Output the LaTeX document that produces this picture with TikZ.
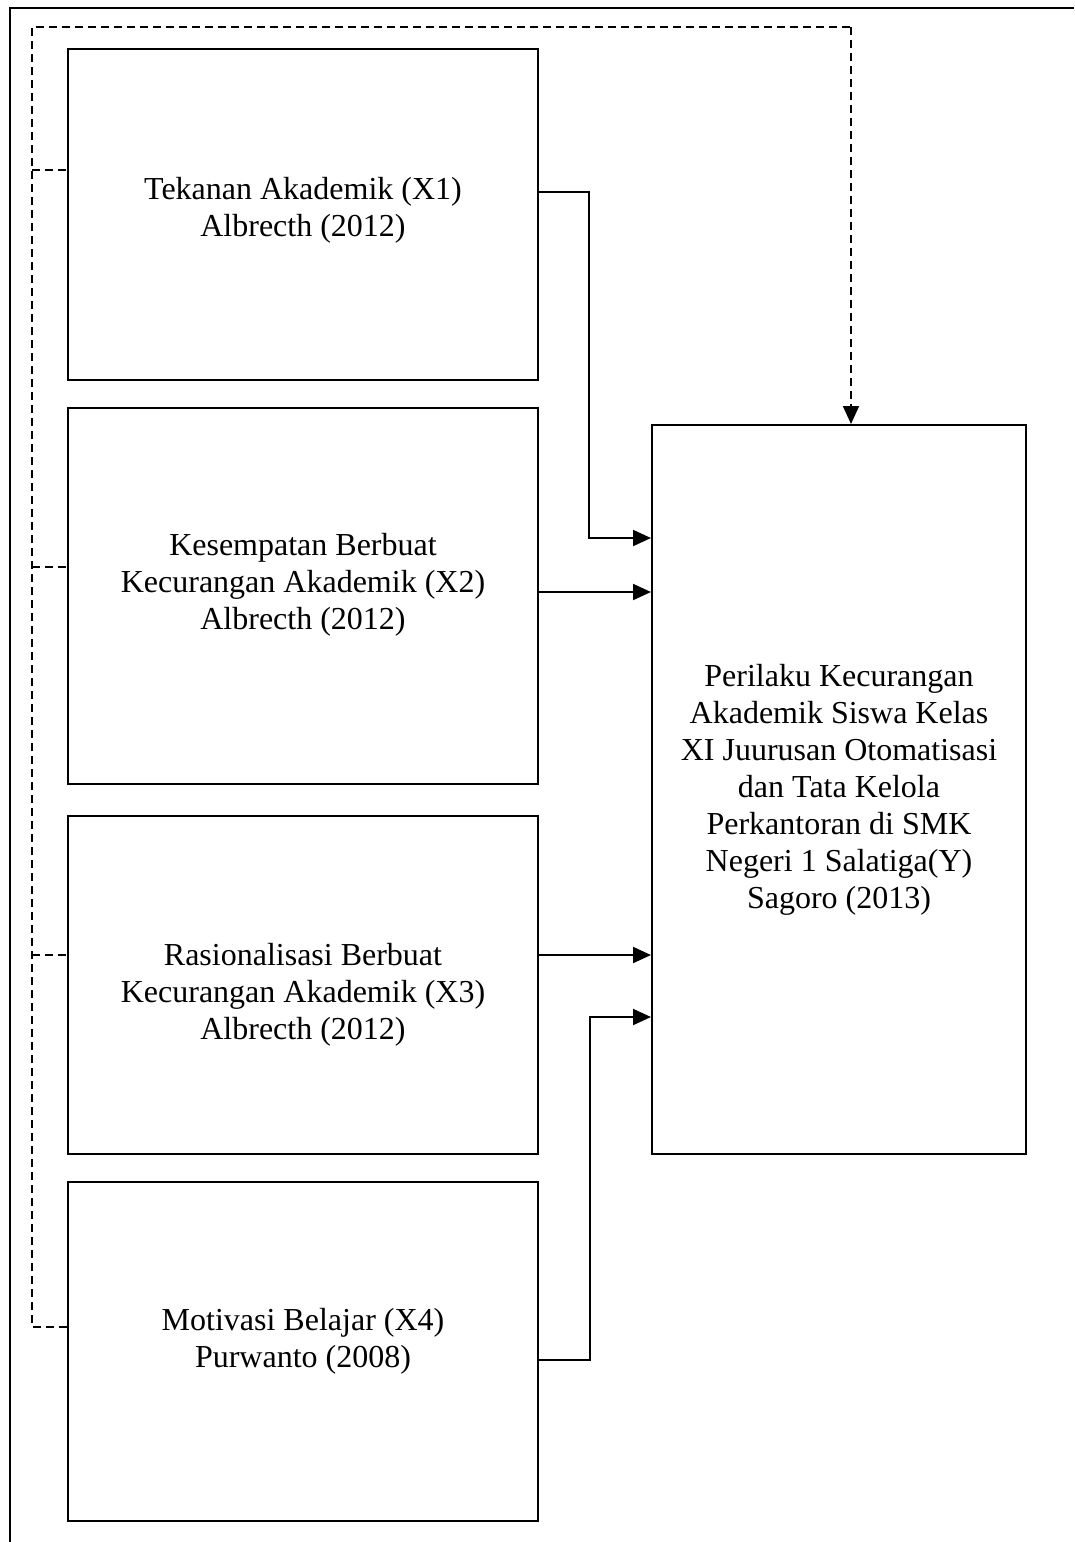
\documentclass[tikz,border=0pt]{standalone}
\usepackage{fontspec}
\setmainfont{Liberation Serif}
\usetikzlibrary{arrows.meta}
\begin{document}
\begin{tikzpicture}[x=1pt,y=-1pt,
  box/.style={draw,line width=2pt,rectangle,inner sep=0pt},
  lbl/.style={align=center,font=\fontsize{32}{37}\selectfont,inner sep=0pt},
  tip/.style={-{Triangle[length=18pt,width=16pt]}},
  conn/.style={line width=2pt,tip},
  dsh/.style={line width=1.8pt,dash pattern=on 8pt off 5pt}]
\useasboundingbox (0,0) rectangle (1074,1542);
% outer frame (top and left only)
\draw[line width=2.2pt] (10,1542) -- (10,8) -- (1074,8);
% boxes
\node[box,minimum width=470pt,minimum height=331pt] (x1) at (303,214.5) {};
\node[box,minimum width=470pt,minimum height=376pt] (x2) at (303,596) {};
\node[box,minimum width=470pt,minimum height=338pt] (x3) at (303,985) {};
\node[box,minimum width=470pt,minimum height=339pt] (x4) at (303,1351.5) {};
\node[box,minimum width=374pt,minimum height=729pt] (y) at (839,789.5) {};
% labels
\node[lbl] (t1) at (303,210) {Tekanan Akademik (X1)\\Albrecth (2012)};
\node[lbl] (t2) at (303,585) {Kesempatan Berbuat\\Kecurangan Akademik (X2)\\Albrecth (2012)};
\node[lbl] (t3) at (303,995) {Rasionalisasi Berbuat\\Kecurangan Akademik (X3)\\Albrecth (2012)};
\node[lbl] (t4) at (303,1341) {Motivasi Belajar (X4)\\Purwanto (2008)};
\node[lbl] (ty) at (839,790) {Perilaku Kecurangan\\Akademik Siswa Kelas\\XI Juurusan Otomatisasi\\dan Tata Kelola\\Perkantoran di SMK\\Negeri 1 Salatiga(Y)\\Sagoro (2013)};
% solid connectors
\draw[conn] (x1.east |- 0,192) -- (589,192) -- (589,538) -- (y.west |- 0,538);
\draw[conn] (x2.east |- 0,592) -- (y.west |- 0,592);
\draw[conn] (x3.east |- 0,955) -- (y.west |- 0,955);
\draw[conn] (x4.east |- 0,1360) -- (590,1360) -- (590,1017) -- (y.west |- 0,1017);
% dashed feedback
\coordinate (d1) at (32,170);
\coordinate (d4) at (32,1327);
\draw[dsh] (x4.west |- d4) -- (d4) -- (32,27) -- (851,27);
\draw[dsh,tip] (851,27) -- (y.north -| 851,0);
\draw[dsh] (d1) -- (x1.west |- d1);
\draw[dsh] (32,567) -- (x2.west |- 0,567);
\draw[dsh] (32,955) -- (x3.west |- 0,955);
\end{tikzpicture}
\end{document}
